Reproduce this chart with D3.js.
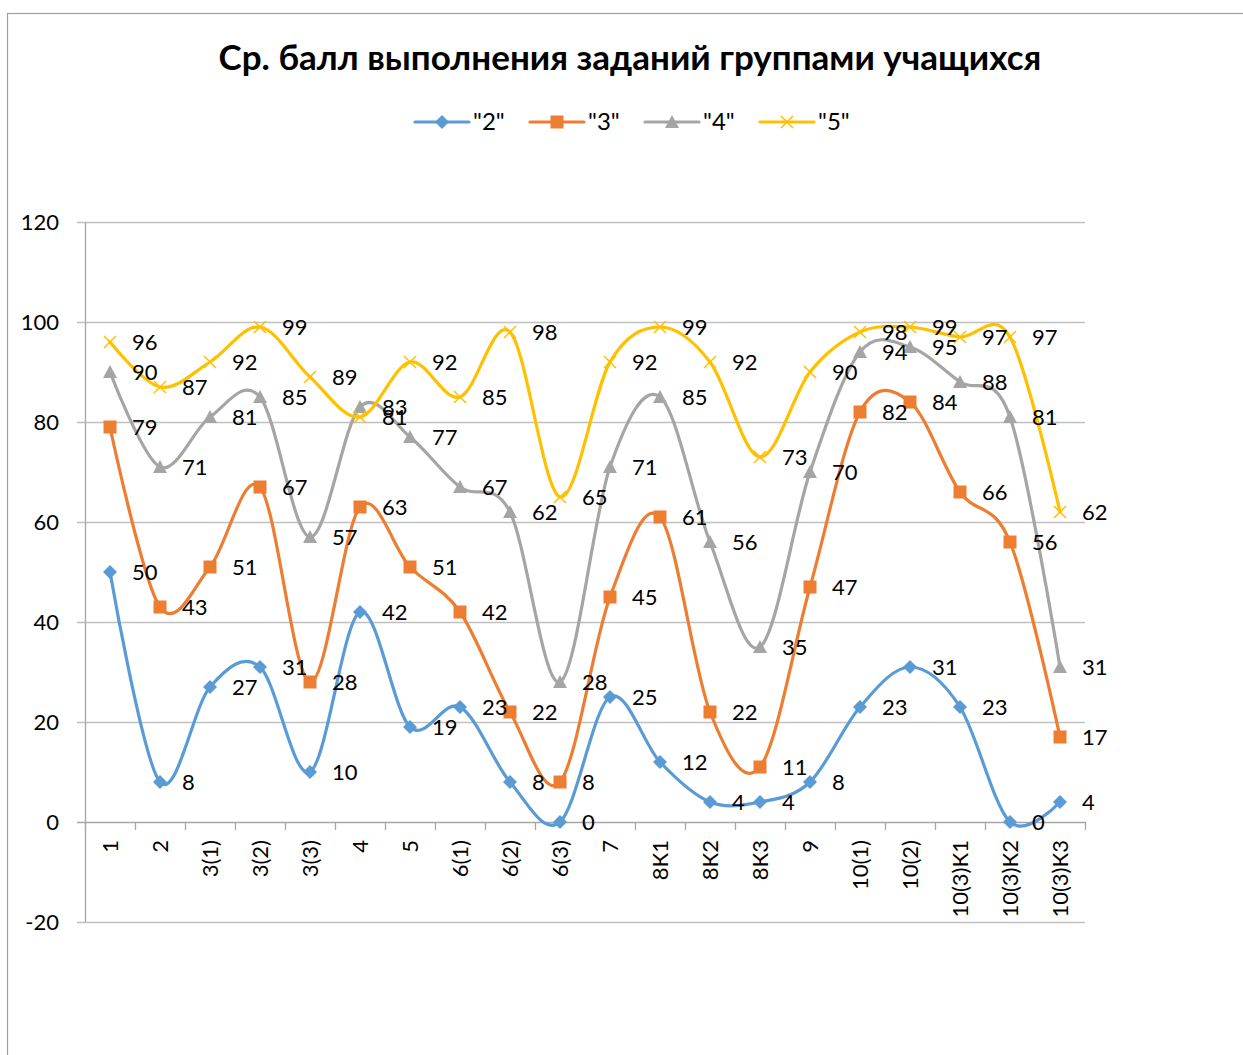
<!DOCTYPE html>
<html>
<head>
<meta charset="utf-8">
<script src="https://d3js.org/d3.v7.min.js"></script>
<style>
  body { margin: 0; background: #fff; }
  #chart text { font-family: Lato, "Open Sans", sans-serif; fill: #000; }
</style>
</head>
<body>
<div id="chart"></div>
<script>
    // chart data
    var categories = ["1", "2", "3(1)", "3(2)", "3(3)", "4", "5", "6(1)", "6(2)", "6(3)", "7",
        "8К1", "8К2", "8К3", "9", "10(1)", "10(2)", "10(3)К1", "10(3)К2", "10(3)К3"];
    var seriesNames = ['"2"', '"3"', '"4"', '"5"'];
    var grade2 = [50, 8, 27, 31, 10, 42, 19, 23, 8, 0, 25, 12, 4, 4, 8, 23, 31, 23, 0, 4];
    var grade3 = [79, 43, 51, 67, 28, 63, 51, 42, 22, 8, 45, 61, 22, 11, 47, 82, 84, 66, 56, 17];
    var grade4 = [90, 71, 81, 85, 57, 83, 77, 67, 62, 28, 71, 85, 56, 35, 70, 94, 95, 88, 81, 31];
    var grade5 = [96, 87, 92, 99, 89, 81, 92, 85, 98, 65, 92, 99, 92, 73, 90, 98, 99, 97, 97, 62];
    var yTicks = [-20, 0, 20, 40, 60, 80, 100, 120];
    var titleText = "Ср. балл выполнения заданий группами учащихся";

    var colors = ["#5B9BD5", "#ED7D31", "#A5A5A5", "#FFC000"];
    var markers = ["diamond", "square", "triangle", "cross"];
    var allSeries = [grade2, grade3, grade4, grade5];

    var W = 1243, H = 1055;
    var margin = { top: 222, left: 85, right: 158, bottom: 133 };
    var width = W - margin.left - margin.right,
        height = H - margin.top - margin.bottom;

    var svg = d3.select("#chart").append("svg")
        .attr("width", W).attr("height", H);

    // chart frame
    svg.append("rect")
        .attr("x", 7.5).attr("y", 13.5)
        .attr("width", W + 20).attr("height", H + 20)
        .attr("fill", "none").attr("stroke", "#a0a0a0").attr("stroke-width", 1.2);

    svg.append("text")
        .attr("x", 630).attr("y", 70)
        .attr("text-anchor", "middle")
        .style("font-size", "35px").style("font-weight", "bold")
        .text(titleText);

    var g = svg.append("g").attr("transform", "translate(" + margin.left + "," + margin.top + ")");

    var x = d3.scaleBand().domain(categories).range([0, width]);
    var y = d3.scaleLinear().domain([-20, 120]).range([height, 0]);

    // gridlines
    g.append("g").selectAll("line")
        .data(yTicks)
        .enter().append("line")
        .attr("x1", -8).attr("x2", width)
        .attr("y1", function(d) { return Math.round(y(d)) + 0.5; })
        .attr("y2", function(d) { return Math.round(y(d)) + 0.5; })
        .attr("stroke", function(d) { return d === 0 ? "#a6a6a6" : "#c0c0c0"; })
        .attr("stroke-width", 1.3);

    // y axis line
    g.append("line")
        .attr("x1", 0.5).attr("x2", 0.5).attr("y1", 0).attr("y2", height)
        .attr("stroke", "#a6a6a6").attr("stroke-width", 1.3);

    // y labels
    g.append("g").selectAll("text")
        .data(yTicks)
        .enter().append("text")
        .attr("x", -26).attr("y", function(d) { return y(d); })
        .attr("dy", "0.35em")
        .attr("text-anchor", "end")
        .style("font-size", "22px")
        .text(function(d) { return d; });

    // x tick marks at band boundaries
    var bounds = categories.map(function(c) { return x(c); }).concat([width]);
    g.append("g").selectAll("line")
        .data(bounds)
        .enter().append("line")
        .attr("x1", function(d) { return Math.round(d) + 0.5; })
        .attr("x2", function(d) { return Math.round(d) + 0.5; })
        .attr("y1", y(0)).attr("y2", y(0) + 8)
        .attr("stroke", "#a6a6a6").attr("stroke-width", 1.3);

    // x labels, rotated
    g.append("g").selectAll("text")
        .data(categories)
        .enter().append("text")
        .attr("transform", function(d) {
            return "translate(" + (x(d) + x.bandwidth() / 2) + "," + (y(0) + 18) + ") rotate(-90)";
        })
        .attr("dy", "0.35em")
        .attr("text-anchor", "end")
        .style("font-size", "22px")
        .text(function(d) { return d; });

    var line = d3.line()
        .x(function(d, i) { return x(categories[i]) + x.bandwidth() / 2; })
        .y(function(d) { return y(d); })
        .curve(d3.curveCardinal.tension(0));

    function drawMarker(sel, type, color) {
        if (type === "diamond") {
            sel.append("path").attr("d", "M0,-7L7,0L0,7L-7,0Z").attr("fill", color);
        } else if (type === "square") {
            sel.append("rect").attr("x", -6.5).attr("y", -6.5).attr("width", 13).attr("height", 13).attr("fill", color);
        } else if (type === "triangle") {
            sel.append("path").attr("d", "M0,-7L7,6L-7,6Z").attr("fill", color);
        } else {
            sel.append("path").attr("d", "M-6,-6L6,6M-6,6L6,-6").attr("stroke", color).attr("stroke-width", 1.5).attr("fill", "none");
        }
    }

    allSeries.forEach(function(vals, s) {
        var sg = g.append("g");
        sg.append("path")
            .datum(vals)
            .attr("d", line)
            .attr("fill", "none")
            .attr("stroke", colors[s])
            .attr("stroke-width", 3.2)
            .attr("stroke-linecap", "round");
        vals.forEach(function(v, i) {
            var m = sg.append("g")
                .attr("transform", "translate(" + (x(categories[i]) + x.bandwidth() / 2) + "," + y(v) + ")");
            drawMarker(m, markers[s], colors[s]);
        });
    });

    // data labels on top
    allSeries.forEach(function(vals, s) {
        g.append("g").selectAll("text")
            .data(vals)
            .enter().append("text")
            .attr("x", function(d, i) { return x(categories[i]) + x.bandwidth() / 2 + 22; })
            .attr("y", function(d) { return y(d); })
            .attr("dy", "0.35em")
            .style("font-size", "22px")
            .text(function(d) { return d; });
    });

    // legend
    var legendItemW = 115;
    var legend = svg.append("g").attr("transform", "translate(415,122)");
    seriesNames.forEach(function(name, s) {
        var lg = legend.append("g").attr("transform", "translate(" + (s * legendItemW) + ",0)");
        lg.append("line").attr("x1", 0).attr("x2", 54).attr("y1", 0).attr("y2", 0)
            .attr("stroke", colors[s]).attr("stroke-width", 3.2).attr("stroke-linecap", "round");
        var m = lg.append("g").attr("transform", "translate(27,0)");
        drawMarker(m, markers[s], colors[s]);
        lg.append("text").attr("x", 58).attr("y", 0).attr("dy", "0.35em")
            .style("font-size", "24px").text(name);
    });
</script>
</body>
</html>
